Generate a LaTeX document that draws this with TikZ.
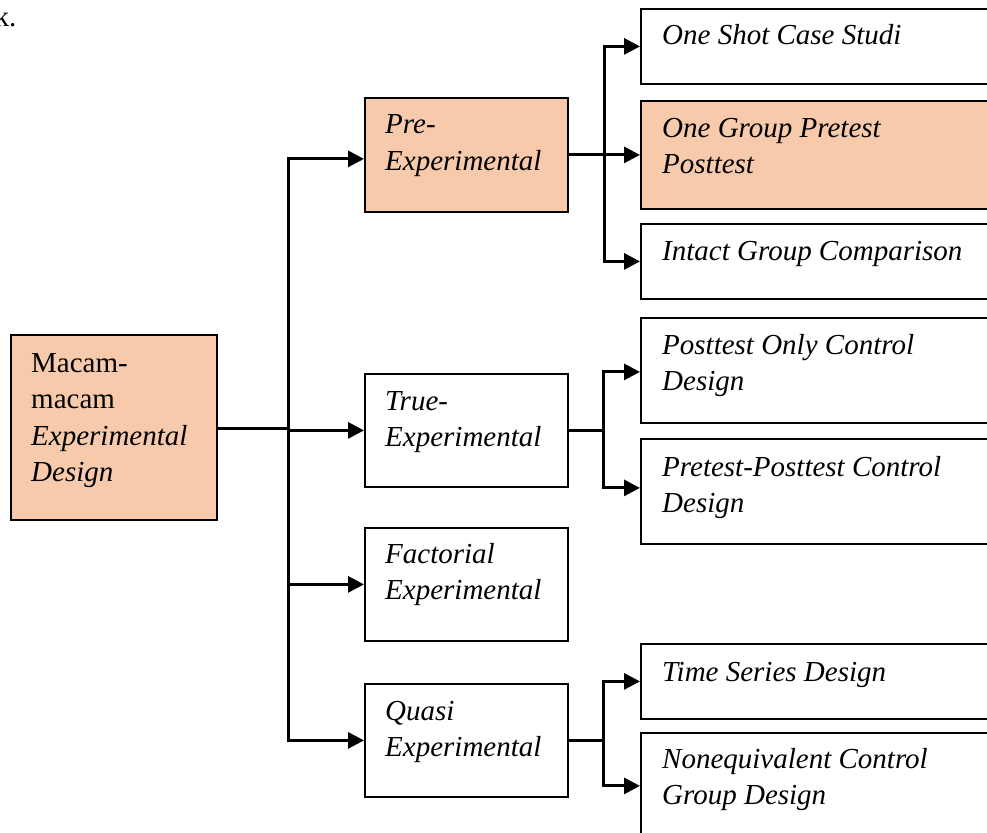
\documentclass[tikz,border=0pt]{standalone}
\usepackage{fontspec}
\setmainfont{Liberation Serif}
\usetikzlibrary{arrows.meta}
\definecolor{peach}{RGB}{247,202,172}
\newcommand{\tbox}[1]{\parbox[t]{330pt}{\raggedright\fontsize{29}{36.5}\selectfont #1}}
\begin{document}
\begin{tikzpicture}[x=1pt,y=-1pt,
  box/.style={draw, line width=1.8pt, rectangle, inner sep=0pt, anchor=north west},
  hl/.style={box, fill=peach},
  lbl/.style={anchor=base west, inner sep=0pt},
  conn/.style={line width=3pt},
  arr/.style={conn, -{Triangle[length=16pt,width=16pt]}}]
\useasboundingbox (0,0) rectangle (987,832);

% top-left fragment
\node[lbl, font=\fontsize{29}{36}\selectfont] (k) at (-5.5,27) {k.};

% main box
\node[hl, minimum width=206pt, minimum height=185pt] (main) at (10,334) {};
\node[lbl] (mainT) at ([shift={(21,38)}]main.north west) {\tbox{Macam-\\macam\\\textit{Experimental}\\\textit{Design}}};

% middle boxes
\node[hl, minimum width=203pt, minimum height=114pt] (pre) at (364,97) {};
\node[box, minimum width=203pt, minimum height=113pt] (true) at (364,373) {};
\node[box, minimum width=203pt, minimum height=113pt] (fact) at (364,527) {};
\node[box, minimum width=203pt, minimum height=113pt] (quasi) at (364,683) {};
\node[lbl] (preT) at ([shift={(21,37)}]pre.north west) {\tbox{\textit{Pre-}\\\textit{Experimental}}};
\node[lbl] (trueT) at ([shift={(21,37)}]true.north west) {\tbox{\textit{True-}\\\textit{Experimental}}};
\node[lbl] (factT) at ([shift={(21,36)}]fact.north west) {\tbox{\textit{Factorial}\\\textit{Experimental}}};
\node[lbl] (quasiT) at ([shift={(21,37)}]quasi.north west) {\tbox{\textit{Quasi}\\\textit{Experimental}}};

% right boxes
\node[box, minimum width=355pt, minimum height=75pt] (oneshot) at (640,8) {};
\node[hl, minimum width=355pt, minimum height=108pt] (onegroup) at (640,100) {};
\node[box, minimum width=355pt, minimum height=75pt] (intact) at (640,223) {};
\node[box, minimum width=355pt, minimum height=105pt] (postonly) at (640,317) {};
\node[box, minimum width=355pt, minimum height=105pt] (pretest) at (640,438) {};
\node[box, minimum width=355pt, minimum height=75pt] (timeser) at (640,643) {};
\node[box, minimum width=355pt, minimum height=106pt] (noneq) at (640,732) {};

\node[lbl] (oneshotT) at ([shift={(22,37)}]oneshot.north west) {\tbox{\textit{One Shot Case Studi}}};
\node[lbl] (onegroupT) at ([shift={(22,37)}]onegroup.north west) {\tbox{\textit{One Group Pretest}\\\textit{Posttest}}};
\node[lbl] (intactT) at ([shift={(22,37)}]intact.north west) {\tbox{\textit{Intact Group Comparison}}};
\node[lbl] (postonlyT) at ([shift={(22,37)}]postonly.north west) {\tbox{\textit{Posttest Only Control}\\\textit{Design}}};
\node[lbl] (pretestT) at ([shift={(22,38)}]pretest.north west) {\tbox{\textit{Pretest-Posttest Control}\\\textit{Design}}};
\node[lbl] (timeserT) at ([shift={(22,38)}]timeser.north west) {\tbox{\textit{Time Series Design}}};
\node[lbl] (noneqT) at ([shift={(22,36)}]noneq.north west) {\tbox{\textit{Nonequivalent Control}\\\textit{Group Design}}};

% trunk
\coordinate (tr) at (288,428);
\draw[conn] (main.east |- tr) -- (tr);
\draw[arr] (tr) |- ([yshift=-4pt]pre.west);
\draw[arr] (tr) -- (tr |- true.west) -- (true.west);
\draw[arr] (tr) |- (fact.west);
\draw[arr] (tr) |- (quasi.west);

% pre branch
\coordinate (bp) at ([xshift=36pt]pre.east);
\draw[conn] (pre.east) -- (bp);
\draw[arr] (bp) |- (oneshot.west);
\draw[arr] (bp) -- (onegroup.west);
\draw[arr] (bp) |- (intact.west);

% true branch
\coordinate (bt) at ([xshift=35pt]true.east);
\draw[conn] (true.east) -- (bt);
\draw[arr] (bt) |- ([yshift=-1.5pt]postonly.west);
\draw[arr] (bt) |- ([yshift=3.5pt]pretest.west);

% quasi branch
\coordinate (bq) at ([xshift=35pt]quasi.east);
\draw[conn] (quasi.east) -- (bq);
\draw[arr] (bq) |- (timeser.west);
\draw[arr] (bq) |- (noneq.west);
\end{tikzpicture}
\end{document}
